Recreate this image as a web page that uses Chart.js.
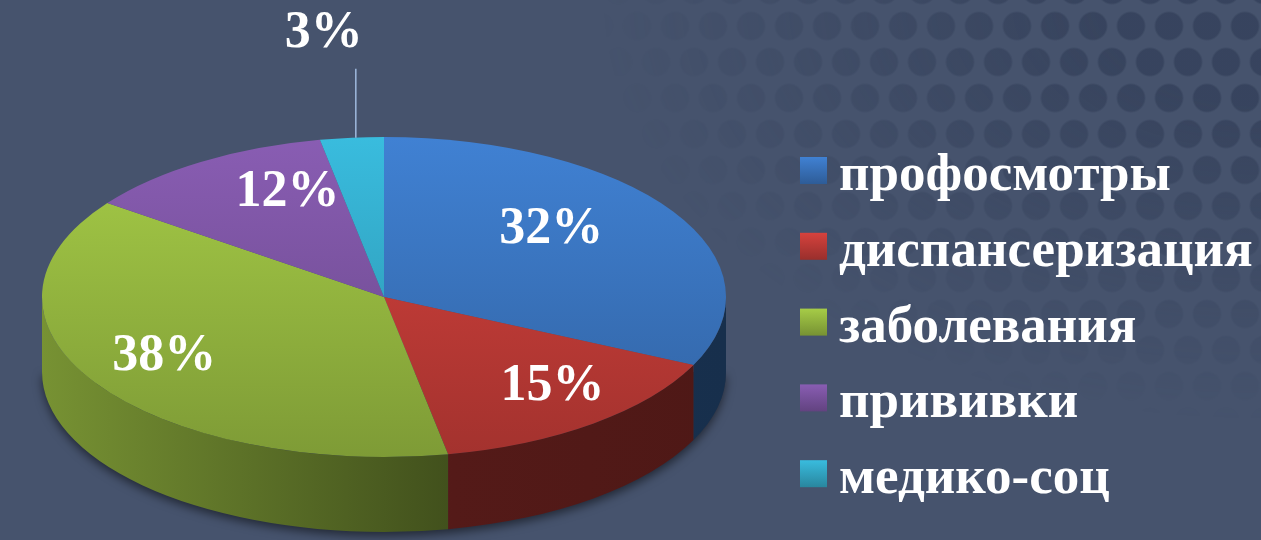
<!DOCTYPE html>
<html>
<head>
<meta charset="utf-8">
<script src="https://cdn.jsdelivr.net/npm/chart.js@4.4.1/dist/chart.umd.min.js"></script>
<style>
html, body { margin: 0; padding: 0; background: #46536d; overflow: hidden; }
#wrap { position: relative; width: 1261px; height: 540px; }
/* dotted texture in the top right corner, staggered rows */
#dots {
    position: absolute; left: 0; top: 0; width: 1261px; height: 540px;
    background-image:
        radial-gradient(circle, rgba(38,50,76,0.45) 0, rgba(38,50,76,0.45) 13px, rgba(38,50,76,0) 15px),
        radial-gradient(circle, rgba(38,50,76,0.45) 0, rgba(38,50,76,0.45) 13px, rgba(38,50,76,0) 15px);
    background-size: 38px 72px, 38px 72px;
    background-position: 10px -10px, 29px 26px;
    -webkit-mask-image: radial-gradient(ellipse 660px 420px at 1261px 0px, rgba(0,0,0,1) 25%, rgba(0,0,0,0) 100%);
    mask-image: radial-gradient(ellipse 660px 420px at 1261px 0px, rgba(0,0,0,1) 25%, rgba(0,0,0,0) 100%);
}
#chart { position: absolute; left: 0; top: 0; }
</style>
</head>
<body>
<div id="wrap">
    <div id="dots"></div>
    <canvas id="chart" width="1261" height="540"></canvas>
</div>
<script>
// Chart data ----- START
const categories = ['профосмотры', 'диспансеризация', 'заболевания', 'прививки', 'медико-соц'];
const shares = [32, 15, 38, 12, 3];
const percentLabels = ['32%', '15%', '38%', '12%', '3%'];
const sliceColors = ['#3d7bc9', '#cc3f3a', '#9ec244', '#8259aa', '#36b3d3'];
// Chart data ----- END

//Where the tilted pie sits on the page (top ellipse + side depth)
const PIE = { cx: 384, cy: 297, rx: 342, ry: 160, depth: 75 };
const FONT = '"Liberation Serif", "Times New Roman", serif';

//Multiply a hex colour by a factor, returns rgb()
function shade(hex, f) {
    const n = parseInt(hex.slice(1), 16);
    const c = [(n >> 16) & 255, (n >> 8) & 255, n & 255].map(v => Math.max(0, Math.min(255, Math.round(v * f))));
    return 'rgb(' + c.join(',') + ')';
}

//Top face colour, lighter at the back and darker at the front
function topFace(c) {
    const area = c.chart.chartArea;
    const base = sliceColors[c.dataIndex] || sliceColors[0];
    if (!area) return base;
    const cy = (area.top + area.bottom) / 2;
    const r = Math.min(area.right - area.left, area.bottom - area.top) / 2;
    const g = c.chart.ctx.createLinearGradient(0, cy - r, 0, cy + r);
    g.addColorStop(0, shade(base, 1.05));
    g.addColorStop(1, shade(base, 0.8));
    return g;
}

const pie3d = {
    id: 'pie3d',
    beforeDatasetsDraw(chart) {
        const ctx = chart.ctx;
        const arcs = chart.getDatasetMeta(0).data;

        //soft shadow under the disc
        ctx.save();
        ctx.shadowColor = 'rgba(0,0,0,0.5)';
        ctx.shadowBlur = 10;
        ctx.shadowOffsetY = 4;
        ctx.fillStyle = '#2a3346';
        ctx.beginPath();
        ctx.ellipse(PIE.cx, PIE.cy + PIE.depth, PIE.rx, PIE.ry, 0, 0, Math.PI);
        ctx.closePath();
        ctx.fill();
        ctx.restore();

        //side walls, only the front half can be seen
        arcs.forEach((arc, i) => {
            const a1 = Math.max(arc.startAngle, 0);
            const a2 = Math.min(arc.endAngle, Math.PI);
            if (a2 <= a1) return;
            const g = ctx.createLinearGradient(PIE.cx - PIE.rx, 0, PIE.cx + PIE.rx, 0);
            g.addColorStop(0, shade(sliceColors[i], 0.75));
            g.addColorStop(0.6, shade(sliceColors[i], 0.41));
            g.addColorStop(1, shade(sliceColors[i], 0.38));
            ctx.beginPath();
            ctx.ellipse(PIE.cx, PIE.cy, PIE.rx, PIE.ry, 0, a1, a2);
            ctx.ellipse(PIE.cx, PIE.cy + PIE.depth, PIE.rx, PIE.ry, 0, a2, a1, true);
            ctx.closePath();
            ctx.fillStyle = g;
            ctx.fill();
        });

        //squash the round pie into the tilted top face
        const a = arcs[0];
        ctx.save();
        ctx.translate(PIE.cx, PIE.cy);
        ctx.scale(PIE.rx / a.outerRadius, PIE.ry / a.outerRadius);
        ctx.translate(-a.x, -a.y);
    },
    afterDatasetsDraw(chart) {
        const ctx = chart.ctx;
        ctx.restore();
        const arcs = chart.getDatasetMeta(0).data;

        ctx.save();
        ctx.fillStyle = '#ffffff';
        ctx.font = 'bold 52px ' + FONT;
        ctx.textAlign = 'center';
        ctx.textBaseline = 'middle';
        arcs.forEach((arc, i) => {
            const mid = (arc.startAngle + arc.endAngle) / 2;
            const sn = Math.sin(mid);
            if (shares[i] >= 5) {
                //labels sit further out at the front, like a perspective view
                const x = PIE.cx + (0.67 + 0.17 * sn) * PIE.rx * Math.cos(mid);
                const y = PIE.cy - 4 + 0.74 * PIE.ry * sn;
                ctx.fillText(percentLabels[i], x, y);
            } else {
                //small slice: label outside with a leader line
                const rimX = PIE.cx + PIE.rx * Math.cos(mid);
                const rimY = PIE.cy + PIE.ry * sn;
                ctx.strokeStyle = '#9fb9dd';
                ctx.lineWidth = 1.5;
                ctx.beginPath();
                ctx.moveTo(rimX + 4, rimY);
                ctx.lineTo(rimX + 4, rimY - 69);
                ctx.stroke();
                ctx.fillText(percentLabels[i], rimX - 28, rimY - 104);
            }
        });
        ctx.restore();
    },
    afterDraw(chart) {
        //legend on the right
        const ctx = chart.ctx;
        ctx.save();
        ctx.font = 'bold 53px ' + FONT;
        ctx.textAlign = 'left';
        ctx.textBaseline = 'alphabetic';
        categories.forEach((name, i) => {
            const base = 190 + i * 75.8;
            const g = ctx.createLinearGradient(0, base - 33, 0, base - 6);
            g.addColorStop(0, shade(sliceColors[i], 1.05));
            g.addColorStop(1, shade(sliceColors[i], 0.75));
            ctx.fillStyle = g;
            ctx.fillRect(800, base - 33, 27, 27);
            ctx.fillStyle = '#ffffff';
            ctx.fillText(name, 839, base);
        });
        ctx.restore();
    }
};

const chartElement = document.getElementById('chart').getContext('2d');
const pieChart = new Chart(chartElement, {
    type: 'pie',
    data: {
        labels: categories,
        datasets: [{
            data: shares,
            backgroundColor: topFace,
            borderWidth: 0,
            clip: false
        }]
    },
    options: {
        responsive: false,
        animation: false,
        devicePixelRatio: 1,
        events: [],
        layout: { padding: 0 },
        plugins: {
            legend: { display: false },
            tooltip: { enabled: false }
        }
    },
    plugins: [pie3d]
});
</script>
</body>
</html>
